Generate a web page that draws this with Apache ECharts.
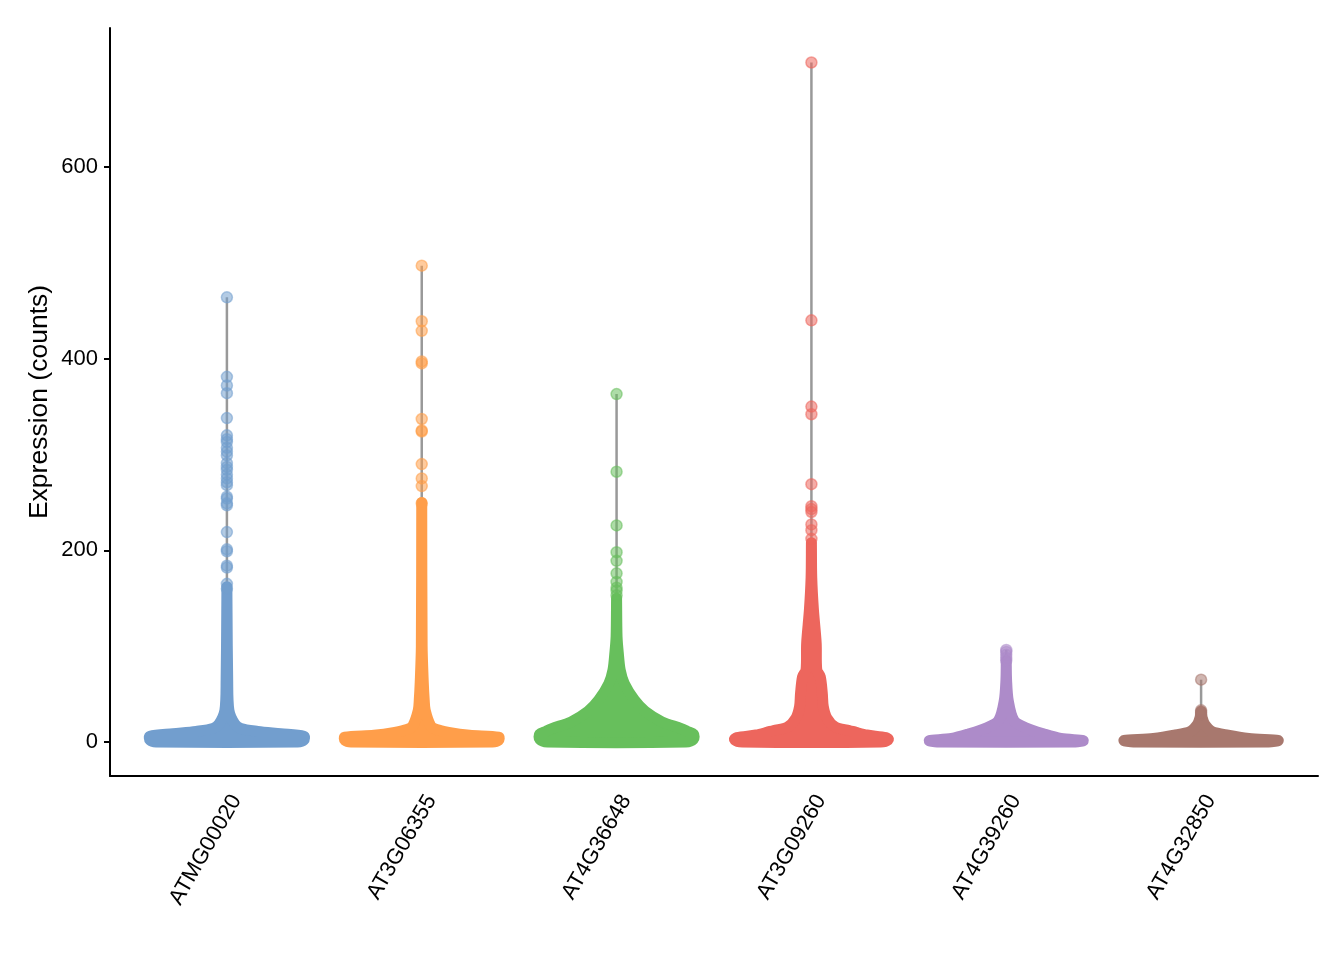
<!DOCTYPE html>
<html>
<head>
<meta charset="utf-8">
<script src="https://cdn.jsdelivr.net/npm/echarts@6/dist/echarts.min.js"></script>
<style>
html,body{margin:0;padding:0;background:#fff;}
#chart{width:1344px;height:960px;}
</style>
</head>
<body>
<div id="chart"></div>
<script>
// ---- data ----
const genes = ['ATMG00020','AT3G06355','AT4G36648','AT3G09260','AT4G39260','AT4G32850'];
const yTicks = [0, 200, 400, 600];

// violin profiles: [expression value, relative half-width]
const violinATMG00020 = [[0,0.92],[2,1],[6,1],[8.6,0.7],[11,0.4],[14,0.18],[19,0.1],[33,0.026],[65,0.01],[135,0.002],[162,0]];
const violinAT3G06355 = [[0,0.92],[2,1],[5,1],[7,0.62],[10,0.35],[13,0.19],[17,0.115],[33,0.045],[44,0.032],[62,0.02],[100,0.005],[250,0]];
const violinAT4G36648 = [[0,0.9],[3,1],[8,1],[11,0.92],[14,0.84],[21,0.59],[32,0.37],[44,0.23],[61,0.1],[75,0.047],[93,0.022],[110,0.006],[150,0]];
const violinAT3G09260 = [[0,0.9],[2.5,1],[4.5,0.97],[7.3,0.72],[10,0.58],[12,0.49],[15.6,0.31],[25,0.2],[37,0.154],[51,0.141],[68,0.115],[75,0.07],[103,0.062],[138,0.026],[172,0.004],[208,0]];
const violinAT4G39260 = [[0,0.9],[1.5,1],[3.6,0.71],[8.3,0.49],[14.6,0.26],[22.4,0.1],[43,0.026],[65,0.004],[85,0]];
const violinAT4G32850 = [[0,0.88],[1.5,1],[3.6,0.62],[7,0.35],[11,0.14],[18,0.05],[25,0.015],[32,0]];

// individual (outlying) cells
const pointsATMG00020 = [464,381,372,364,338,320,316,313,307,303,299,291,287,284,279,275,271,268,256,254,249,247,219,201,199,184,182,165,160];
const pointsAT3G06355 = [497,439,429,397,395,337,325,324,290,275,267,249];
const pointsAT4G36648 = [363,282,226,198,189,176,167,161,158,153];
const pointsAT3G09260 = [709,440,350,342,269,246,243,240,227,221,212];
const pointsAT4G39260 = [96,94,91,88,85];
const pointsAT4G32850 = [65,33,31,29];

// ---- styles ----
const palette = ['#729ECE','#FF9E4A','#67BF5C','#ED665D','#AD8BC9','#A8786E'];
const paletteRGB = [[114,158,206],[255,158,74],[103,191,92],[237,102,93],[173,139,201],[168,120,110]];
const FONT = 'Liberation Sans, Arial, Helvetica, sans-serif';
const HALF_W = 0.395;   // max violin half width in category units

const profiles = [violinATMG00020, violinAT3G06355, violinAT4G36648, violinAT3G09260, violinAT4G39260, violinAT4G32850];
const points = [pointsATMG00020, pointsAT3G06355, pointsAT4G36648, pointsAT3G09260, pointsAT4G39260, pointsAT4G32850];

const chart = echarts.init(document.getElementById('chart'), null, {renderer: 'canvas'});

const series = [];
// grey range lines
series.push({
  type: 'custom',
  z: 1,
  silent: true,
  data: genes.map((g, i) => [i + 1, Math.max.apply(null, points[i])]),
  renderItem: function (params, api) {
    const x = api.value(0);
    const p0 = api.coord([x, 0]);
    const p1 = api.coord([x, api.value(1)]);
    return {type: 'line', shape: {x1: p0[0], y1: p0[1], x2: p1[0], y2: p1[1]},
      style: {stroke: '#999999', lineWidth: 2.5}};
  }
});
// violins
series.push({
  type: 'custom',
  z: 2,
  silent: true,
  data: genes.map((g, i) => [i + 1, 0]),
  renderItem: function (params, api) {
    const i = params.dataIndex;
    const x = api.value(0);
    const prof = profiles[i];
    const left = prof.map(d => api.coord([x - d[1] * HALF_W, d[0]]));
    const right = prof.slice().reverse().map(d => api.coord([x + d[1] * HALF_W, d[0]]));
    return {type: 'polygon', shape: {points: left.concat(right), smooth: 0.3},
      style: {fill: palette[i], stroke: palette[i], lineWidth: 11, lineJoin: 'round', lineCap: 'round'}};
  }
});
// points
genes.forEach((g, i) => {
  const c = paletteRGB[i];
  series.push({
    type: 'scatter',
    z: 3,
    silent: true,
    symbol: 'circle',
    symbolSize: 11,
    itemStyle: {
      color: 'rgba(' + c.join(',') + ',0.68)',
      borderColor: 'rgba(' + c.join(',') + ',0.7)',
      borderWidth: 1.5
    },
    data: points[i].map(v => [i + 1, v])
  });
});

chart.setOption({
  animation: false,
  backgroundColor: '#ffffff',
  grid: {left: 110, right: 26, top: 28, bottom: 184, containLabel: false, outerBoundsMode: 'none'},
  xAxis: {
    type: 'value',
    min: 0.4,
    max: 6.6,
    splitLine: {show: false},
    axisLine: {show: true, onZero: false, lineStyle: {color: '#000', width: 2}},
    axisTick: {show: false},
    axisLabel: {
      customValues: [1, 2, 3, 4, 5, 6],
      formatter: v => genes[Math.round(v) - 1],
      rotate: 60,
      margin: 15,
      verticalAlign: 'top',
      color: '#000',
      fontSize: 22,
      fontFamily: FONT
    }
  },
  yAxis: {
    type: 'value',
    min: -35.5,
    max: 745,
    name: 'Expression (counts)',
    nameLocation: 'middle',
    nameGap: 57,
    nameMoveOverlap: false,
    nameTextStyle: {color: '#000', fontSize: 26.5, fontFamily: FONT},
    splitLine: {show: false},
    axisLine: {show: true, onZero: false, lineStyle: {color: '#000', width: 2}},
    axisTick: {show: true, customValues: yTicks, length: 6, lineStyle: {color: '#000', width: 2}},
    axisLabel: {customValues: yTicks, margin: 12, color: '#000', fontSize: 22, fontFamily: FONT}
  },
  series: series
});
</script>
</body>
</html>
